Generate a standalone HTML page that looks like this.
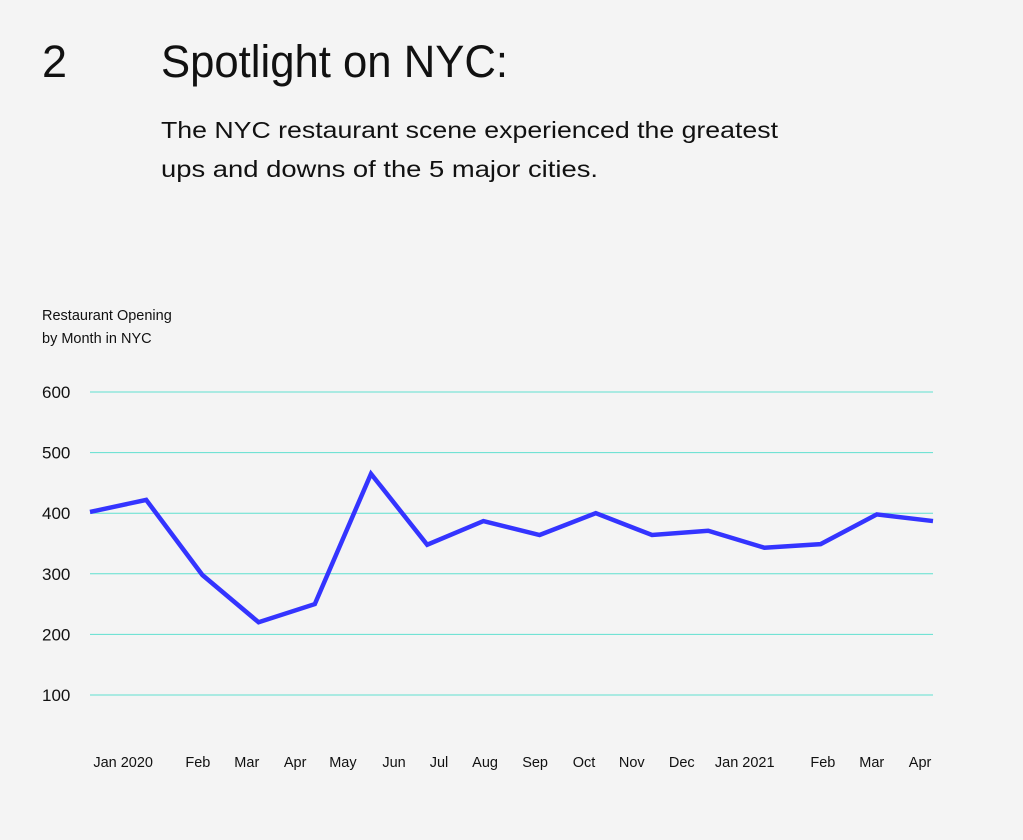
<!DOCTYPE html>
<html><head><meta charset="utf-8"><style>
html,body{margin:0;padding:0;background:#f4f4f4;}
svg{display:block;font-family:"Liberation Sans",sans-serif;}
</style></head><body>
<svg id="chart" width="1023" height="840">
<rect width="1023" height="840" fill="#f4f4f4"/>
<text x="42" y="77" font-size="45" fill="#111">2</text>
<text x="161" y="77" font-size="45" fill="#111" textLength="347" lengthAdjust="spacingAndGlyphs">Spotlight on NYC:</text>
<text x="161" y="138" font-size="23" fill="#111" textLength="617" lengthAdjust="spacingAndGlyphs">The NYC restaurant scene experienced the greatest</text>
<text x="161" y="177" font-size="23" fill="#111" textLength="437" lengthAdjust="spacingAndGlyphs">ups and downs of the 5 major cities.</text>
<text x="42" y="320" font-size="14.5" fill="#111">Restaurant Opening</text>
<text x="42" y="343" font-size="14.5" fill="#111">by Month in NYC</text>
<g id="grid"></g><g id="xl"></g><g id="series"></g>
</svg>
<script>
const yTicks=[100,200,300,400,500,600];
const months=["Jan 2020","Feb","Mar","Apr","May","Jun","Jul","Aug","Sep","Oct","Nov","Dec","Jan 2021","Feb","Mar","Apr"];
const labelIdx=[0.59,1.92,2.79,3.65,4.5,5.41,6.21,7.03,7.92,8.79,9.64,10.53,11.65,13.04,13.91,14.77];
const openings=[402,422,298,220,250,465,348,387,364,400,364,371,343,349,398,387];
const NS="http://www.w3.org/2000/svg";
const x0=90,x1=933;
function xs(i){return x0+(x1-x0)*i/(openings.length-1);}
function ys(v){return 695-(v-100)*(695-392)/500;}
const grid=document.getElementById('grid');
yTicks.forEach(t=>{
 const l=document.createElementNS(NS,'line');
 l.setAttribute('x1',90);l.setAttribute('x2',933);l.setAttribute('y1',ys(t));l.setAttribute('y2',ys(t));
 l.setAttribute('stroke','#5fe0cf');l.setAttribute('stroke-width','1');
 
 
 grid.appendChild(l);
 const tx=document.createElementNS(NS,'text');
 tx.setAttribute('x',42);tx.setAttribute('y',ys(t)+6);tx.setAttribute('font-size','17');tx.setAttribute('fill','#111');
 tx.textContent=t;
 
 
 grid.appendChild(tx);
});
const xl=document.getElementById('xl');
months.forEach((m,i)=>{
 const tx=document.createElementNS(NS,'text');
 tx.setAttribute('x',xs(labelIdx[i]));tx.setAttribute('y',767);tx.setAttribute('font-size','14.5');
 tx.setAttribute('text-anchor','middle');tx.setAttribute('fill','#111');
 tx.textContent=m;
 
 
 xl.appendChild(tx);
});
const p=document.createElementNS(NS,'polyline');
p.setAttribute('points',openings.map((v,i)=>xs(i)+','+ys(v)).join(' '));
p.setAttribute('fill','none');p.setAttribute('stroke','#3434ff');p.setAttribute('stroke-width','4.5');
p.setAttribute('stroke-linejoin','miter');


document.getElementById('series').appendChild(p);
</script>
</body></html>
